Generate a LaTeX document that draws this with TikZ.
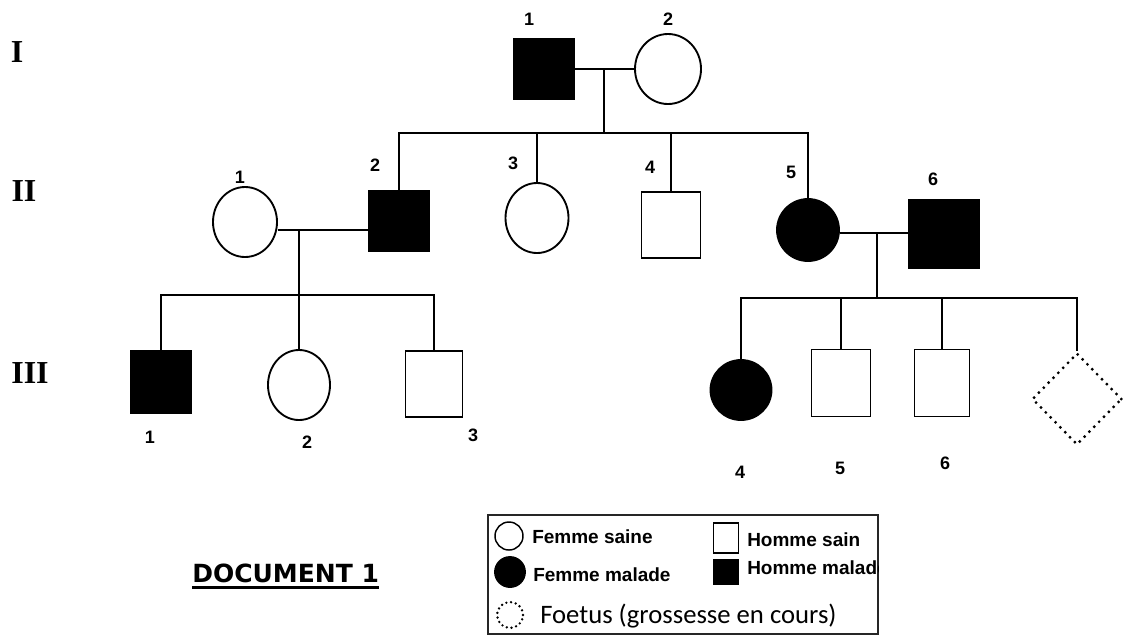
\documentclass[tikz,border=0pt]{standalone}
\usepackage{fontspec}
\setmainfont{Liberation Serif}
\newfontfamily\numfont{Liberation Sans}
\newfontfamily\notefont{Carlito}
\newfontfamily\docfont{DejaVu Sans}
\usepackage{tikz}
\usetikzlibrary{shapes.geometric, positioning}

\begin{document}
\begin{tikzpicture}[
    x=0.75pt, y=-0.75pt,
    man/.style={rectangle, draw=black, line width=1.4pt, inner sep=0pt, minimum width=45pt, minimum height=45pt},
    woman/.style={ellipse, draw=black, line width=1.4pt, inner sep=0pt, minimum width=48pt, minimum height=52.5pt},
    sick/.style={fill=black},
    fetus/.style={diamond, draw=black, line width=2.4pt, dash pattern=on 0pt off 5.2pt, line cap=round, inner sep=0pt, minimum width=67.5pt, minimum height=69pt},
    num/.style={font=\numfont\bfseries\fontsize{13.5}{15}\selectfont, inner sep=0pt},
    gen/.style={font=\bfseries\fontsize{24}{28}\selectfont, inner sep=0pt},
    key/.style={font=\numfont\bfseries\fontsize{14.25}{16}\selectfont, inner sep=0pt, anchor=west},
    link/.style={line width=2pt}
]
\useasboundingbox (0,0) rectangle (1123,637);

% generations
\node[gen] (gI) at (17,52) {I};
\node[gen] (gII) at (24,191) {II};
\node[gen] (gIII) at (30,373) {III};

% generation I
\node[man, sick] (I1) at (544,69) {};
\node[woman, minimum width=49.5pt] (I2) at (668,69) {};
\node[num] (nI1) at (529,19) {1};
\node[num] (nI2) at (668,19) {2};

% generation II
\node[woman] (II1) at (245,222) {};
\node[man, sick] (II2) at (399,221) {};
\node[woman, minimum width=47.25pt] (II3) at (537,218) {};
\node[man, minimum width=44.25pt, minimum height=49.5pt] (II4) at (671,225) {};
\node[woman, sick, minimum width=46.5pt, minimum height=46.5pt] (II5) at (808,230) {};
\node[man, sick, minimum width=52.5pt, minimum height=51pt] (II6) at (944,234) {};
\node[num] (nII1) at (240,177) {1};
\node[num] (nII2) at (375,165) {2};
\node[num] (nII3) at (513,163) {3};
\node[num] (nII4) at (650,167) {4};
\node[num] (nII5) at (791,172) {5};
\node[num] (nII6) at (933,179) {6};

% generation III
\node[man, sick, minimum height=46.5pt] (III1) at (161,382) {};
\node[woman, minimum width=46.5pt] (III2) at (299,385) {};
\node[man, minimum width=42.75pt, minimum height=49.5pt] (III3) at (434,384) {};
\node[woman, sick, minimum width=45.75pt, minimum height=45pt] (III4) at (741,390) {};
\node[man, minimum width=44.25pt, minimum height=50.25pt] (III5) at (841,383) {};
\node[man, minimum width=41.25pt, minimum height=50.25pt] (III6) at (942,383) {};
\node[fetus] (III7) at (1077,399) {};
\node[num] (nIII1) at (150,437) {1};
\node[num] (nIII2) at (307,442) {2};
\node[num] (nIII3) at (473,435) {3};
\node[num] (nIII4) at (740,472) {4};
\node[num] (nIII5) at (840,468) {5};
\node[num] (nIII6) at (945,463) {6};

% couples and children
\coordinate (mI) at (604,69);
\coordinate (sibII) at (604,133);
\coordinate (mII) at (299,230);
\coordinate (sibIIIa) at (299,295);
\coordinate (mIIb) at (877,233);
\coordinate (sibIIIb) at (877,298);

\draw[link] (I1) -- (I2);
\draw[link] (mI) -- (sibII);
\draw[link] (II2.north) |- (sibII) -| (II5.north);
\draw[link] (II3.north) -- (II3.north |- sibII);
\draw[link] (II4.north) -- (II4.north |- sibII);

\draw[link] (II1.east |- mII) -- (II2.west |- mII);
\draw[link] (mII) -- (sibIIIa);
\draw[link] (III1.north) |- (sibIIIa) -| (III3.north);
\draw[link] (III2.north) -- (III2.north |- sibIIIa);

\draw[link] (II5.east |- mIIb) -- (II6.west |- mIIb);
\draw[link] (mIIb) -- (sibIIIb);
\draw[link] (III4.north) |- (sibIIIb) -| (III7.north);
\draw[link] (III5.north) -- (III5.north |- sibIIIb);
\draw[link] (III6.north) -- (III6.north |- sibIIIb);

% legend
\node[draw=black!85, line width=1pt, inner sep=0pt, minimum width=292.5pt, minimum height=89.25pt] (legend) at (683,574.5) {};
\begin{scope}
\clip (legend.south west) rectangle (legend.north east);
\node[woman, line width=1.1pt, minimum width=21pt, minimum height=21pt] (kW) at (509,536) {};
\node[woman, sick, minimum width=22.5pt, minimum height=22.5pt] (kWs) at (510,572) {};
\node[man, line width=1.1pt, minimum width=18.75pt, minimum height=22.5pt] (kM) at (726,538) {};
\node[man, sick, minimum width=18.75pt, minimum height=18.75pt] (kMs) at (726,572) {};
\node[circle, draw=black, line width=2pt, dash pattern=on 0pt off 3.6pt, line cap=round, inner sep=0pt, minimum size=19.5pt] (kF) at (510,615) {};
\node[key] (tW) at (532,537) {Femme saine};
\node[key] (tWs) at (533,575) {Femme malade};
\node[key] (tM) at (747,540) {Homme sain};
\node[key] (tMs) at (747,568) {Homme malade};
\node[font=\notefont\fontsize{20}{24}\selectfont, inner sep=0pt, anchor=west] (tF) at (540,616) {Foetus (grossesse en cours)};
\end{scope}

% title
\node[font=\docfont\bfseries\fontsize{18.75}{22}\selectfont, inner sep=0pt, anchor=south west] (doc) at (192,583) {DOCUMENT 1};
\draw[line width=2.25pt] ([yshift=-3pt]doc.south west) -- ([yshift=-3pt]doc.south east);

\end{tikzpicture}
\end{document}
